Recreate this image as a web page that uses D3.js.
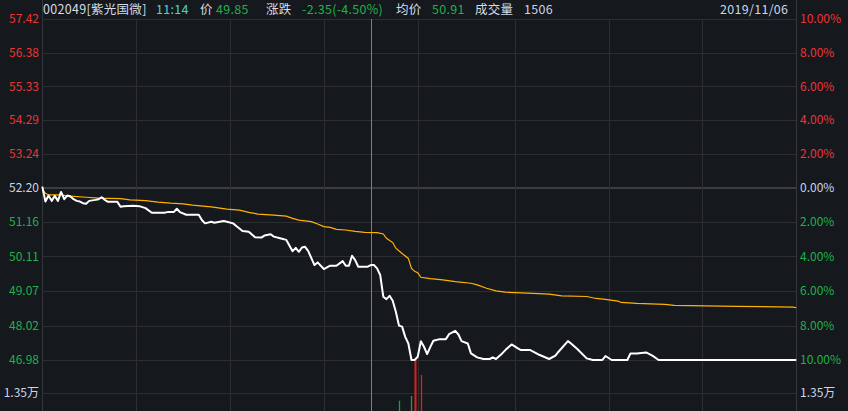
<!DOCTYPE html>
<html><head><meta charset="utf-8">
<script src="https://cdn.jsdelivr.net/npm/d3@7"></script>
<style>
html,body{margin:0;padding:0;background:#15181d;overflow:hidden}
svg{display:block}
text{font-family:"Noto Sans CJK SC","Microsoft YaHei",sans-serif}
</style></head><body>
<svg id="c" width="848" height="411"></svg>
<script>
// ---- data ----
const priceMinutes = [0,1,2,3,4,5,6,7,8,9,10,11,12,13,14,15,17,18,19,20,21,24,25,26,29,31,33,35,39,40,42,43,44,46,50,51,52,54,55,58,59,61,62,64,66,68,70,71,73,74,76,78,80,81,82,83,84,85,87,88,90,92,94,96,97,98,99,100,101,104,105,106,107,108,109,110,111,112,113,114,115,116,117,118,119,120,121,122,123,124,125,127,129,130,132,133,134,136,137,139,141,143,144,145,147,148,150,152,153,156,159,162,164,165,168,169,171,174,176,179,180,182,187,188,190,193,195,197,241];
const priceValues = [52.22,51.77,51.95,51.79,51.94,51.79,52.06,51.84,51.95,51.92,51.84,51.79,51.77,51.72,51.70,51.79,51.82,51.84,51.90,51.82,51.76,51.76,51.61,51.63,51.64,51.63,51.57,51.43,51.43,51.45,51.45,51.55,51.45,51.37,51.37,51.21,51.11,51.16,51.13,51.18,51.16,51.11,51.03,50.88,50.86,50.69,50.68,50.74,50.78,50.71,50.66,50.61,50.27,50.37,50.25,50.38,50.40,50.27,49.85,49.93,49.73,49.83,49.83,49.97,49.83,49.83,50.13,50.00,49.80,49.80,49.85,49.85,49.75,49.55,48.89,48.82,48.92,48.77,48.44,48.02,47.99,47.68,47.48,46.98,46.98,47.08,47.55,47.38,47.16,47.37,47.56,47.61,47.61,47.76,47.86,47.75,47.55,47.48,47.18,47.06,47.01,47.01,47.06,47.01,47.18,47.28,47.45,47.33,47.28,47.28,47.13,47.01,47.11,47.23,47.55,47.48,47.31,47.03,46.98,46.98,47.10,46.98,46.98,47.18,47.18,47.21,47.11,46.98,46.98];
const avgMinutes = [0,1,2,6,8,14,18,25,28,33,37,41,45,48,54,59,63,66,69,74,78,80,82,86,88,90,92,94,97,100,103,107,109,110,112,113,115,117,118,119,120,121,124,128,132,137,139,142,145,148,155,162,166,174,177,180,184,185,190,199,202,222,240,241];
const avgValues = [52.14,52.02,51.97,51.97,51.94,51.90,51.87,51.86,51.82,51.80,51.75,51.72,51.70,51.66,51.61,51.54,51.51,51.44,51.39,51.36,51.33,51.26,51.21,51.16,51.09,51.01,50.99,50.93,50.91,50.87,50.84,50.83,50.79,50.66,50.53,50.36,50.20,50.05,49.75,49.66,49.62,49.48,49.44,49.40,49.35,49.30,49.25,49.15,49.07,49.03,49.00,48.97,48.92,48.90,48.84,48.81,48.76,48.72,48.69,48.66,48.63,48.60,48.58,48.56];
const volMinutes = [114,118,119,121];
const volValues = [10350,12270,26800,20860];
const volUp = [false,false,true,true];
const preClose = 52.20;
const priceTicks = ["57.42","56.38","55.33","54.29","53.24","52.20","51.16","50.11","49.07","48.02","46.98"];
const pctTicks = ["10.00%","8.00%","6.00%","4.00%","2.00%","0.00%","2.00%","4.00%","6.00%","8.00%","10.00%"];
const volTickValue = 13500;
const volTickLabel = "1.35万";
const timeGridMinutes = [30,60,90,120,151,181,211];
const cursorMinute = 105;
const headerTexts = ["002049[紫光国微]","11:14","价","49.85","涨跌","-2.35(-4.50%)","均价","50.91","成交量","1506","2019/11/06"];
const headerKinds = ["name","time","label","down","label","down","label","down","label","info","info"];

// ---- drawing ----
const RED="#ec3535", GREEN="#1fb24a", NEUTRAL="#c8d6e8", GRID="#2c2e33";
const svg=d3.select("#c");
svg.append("rect").attr("width",848).attr("height",411).attr("fill","#15181d");

const x=d3.scaleLinear().domain([0,241]).range([42.3,796.3]);
const y=d3.scaleLinear().domain([46.98,preClose,57.42]).range([360,187.3,19]);
const yv=d3.scaleLinear().domain([0,27000]).range([426,360]);
const L=x(0), R=x(241);
const snap=v=>Math.round(v)+0.5;

const grid=svg.append("g").attr("shape-rendering","crispEdges");
priceTicks.forEach(t=>{
  const v=+t, yy=snap(y(v));
  const zero = Math.abs(v-preClose)<1e-6;
  grid.append("line").attr("x1",L).attr("x2",R).attr("y1",yy).attr("y2",yy)
    .attr("stroke",zero?"#3b3d42":GRID).attr("stroke-width",zero?2:1);
});
grid.append("line").attr("x1",L).attr("x2",R).attr("y1",snap(yv(volTickValue))).attr("y2",snap(yv(volTickValue)))
  .attr("stroke",GRID);
timeGridMinutes.forEach(m=>{
  const xx=snap(x(m));
  grid.append("line").attr("x1",xx).attr("x2",xx).attr("y1",19).attr("y2",411).attr("stroke",GRID);
});
[L,R].forEach(xx=>grid.append("line").attr("x1",snap(xx)).attr("x2",snap(xx)).attr("y1",0).attr("y2",411).attr("stroke","#34363b"));

// cursor
svg.append("line").attr("x1",snap(x(cursorMinute))).attr("x2",snap(x(cursorMinute))).attr("y1",19).attr("y2",411)
  .attr("stroke","#7c7f84").attr("shape-rendering","crispEdges");

// volume bars
volMinutes.forEach((m,i)=>{
  svg.append("line").attr("x1",snap(x(m))).attr("x2",snap(x(m))).attr("y1",yv(volValues[i])).attr("y2",426)
    .attr("stroke",volUp[i]?"#e51c1c":"#1f9e3a").attr("stroke-width",i===2?2:1.3);
});

// avg line
const avgData=avgMinutes.map((m,i)=>[m,avgValues[i]]);
svg.append("path").datum(avgData).attr("fill","none").attr("stroke","#ffb300").attr("stroke-width",1.2)
  .attr("d",d3.line().x(d=>x(d[0])).y(d=>y(d[1])));
// price line
const priceData=priceMinutes.map((m,i)=>[m,priceValues[i]]);
svg.append("path").datum(priceData).attr("fill","none").attr("stroke","#ffffff").attr("stroke-width",2)
  .attr("stroke-linejoin","round")
  .attr("d",d3.line().x(d=>x(d[0])).y(d=>y(d[1])));

// axis labels
priceTicks.forEach(t=>{
  const v=+t;
  const c = Math.abs(v-preClose)<1e-6?NEUTRAL:(v>preClose?RED:GREEN);
  svg.append("text").attr("x",39).attr("y",y(v)).attr("dy","0.36em").attr("text-anchor","end")
    .attr("font-size",12).attr("fill",c).text(t);
});
pctTicks.forEach((t,i)=>{
  const v=+priceTicks[i];
  const c = Math.abs(v-preClose)<1e-6?NEUTRAL:(v>preClose?RED:GREEN);
  svg.append("text").attr("x",800).attr("y",y(v)).attr("dy","0.36em")
    .attr("font-size",12).attr("fill",c).text(t);
});
svg.append("text").attr("x",39).attr("y",yv(volTickValue)).attr("dy","0.36em").attr("text-anchor","end")
  .attr("font-size",12).attr("fill",NEUTRAL).text(volTickLabel);
svg.append("text").attr("x",800).attr("y",yv(volTickValue)).attr("dy","0.36em")
  .attr("font-size",12).attr("fill",NEUTRAL).text(volTickLabel);

// header
const headerX=[43,156,200,216,266,302,396,432,475,524,720];
const kindColor={name:"#d6dce4",time:"#4fd3d8",label:"#d6dce4",down:GREEN,info:NEUTRAL};
headerTexts.forEach((t,i)=>{
  svg.append("text").attr("x",headerX[i]).attr("y",13.5).attr("font-size",12.5)
    .attr("letter-spacing","0.3px")
    .attr("fill",kindColor[headerKinds[i]]).text(t);
});
</script>
</body></html>
